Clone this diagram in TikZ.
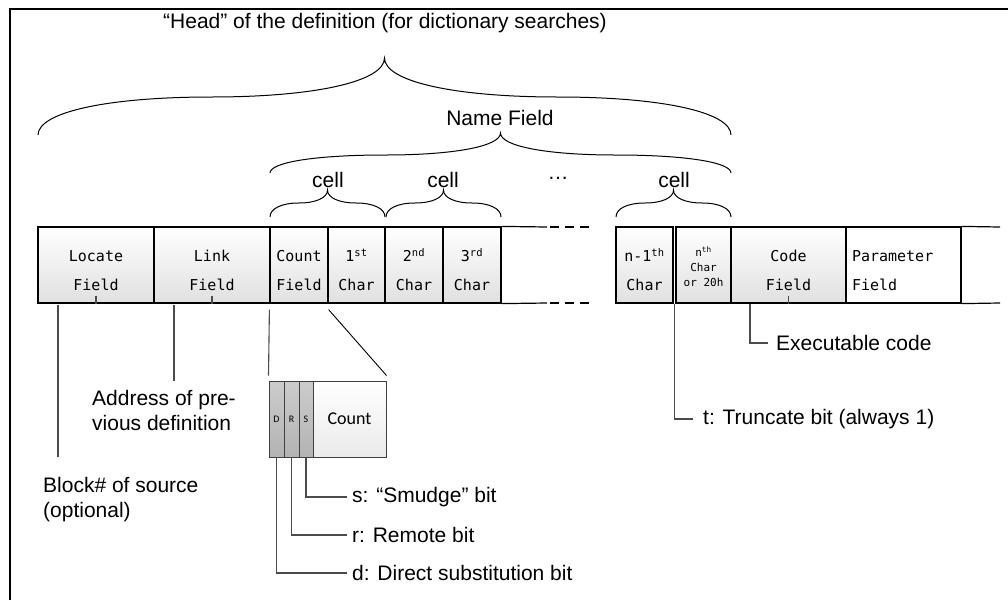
\documentclass[tikz,border=0pt]{standalone}
\usepackage{fontspec}
\setmainfont{Liberation Sans}
\newfontfamily\monof{DejaVu Sans Mono}
\newfontfamily\calib{Carlito}

\newcommand{\fup}{\rule{0pt}{23pt}}
% curly brace: left x, right x, end y, arm y, tip y
\newcommand{\brce}[5]{%
  \pgfmathsetmacro{\bxm}{(#1+#2)/2}%
  \pgfmathsetmacro{\bxl}{(#1+\bxm)/2}%
  \pgfmathsetmacro{\bxr}{(\bxm+#2)/2}%
  \draw[brc] (#1,#3) .. controls (#1,{#3+0.6*(#4-#3)}) and ({\bxl-0.6*(\bxl-#1)},#4) .. (\bxl,#4)
    .. controls ({\bxl+0.6*(\bxm-\bxl)},#4) and (\bxm,{#5+0.6*(#4-#5)}) .. (\bxm,#5)
    .. controls (\bxm,{#5+0.6*(#4-#5)}) and ({\bxr-0.6*(\bxr-\bxm)},#4) .. (\bxr,#4)
    .. controls ({\bxr+0.6*(#2-\bxr)},#4) and (#2,{#3+0.6*(#4-#3)}) .. (#2,#3);}

\tikzset{
  fld/.style={draw=black, line width=1.2pt, top color=white, bottom color=black!12,
    minimum height=76pt, inner sep=0pt, align=center,
    font=\monof\fontsize{15}{29}\selectfont},
  bit/.style={draw=black!75, line width=1pt, top color=black!20, bottom color=black!30,
    minimum height=76pt, inner sep=0pt, font=\calib\fontsize{10}{10}\selectfont},
  lbl/.style={font=\fontsize{21}{25}\selectfont, inner sep=0pt},
  lead/.style={draw=black!70, line width=1.1pt},
  brc/.style={line width=1pt},
}

\begin{document}
\begin{tikzpicture}[x=1pt, y=-1pt]
  \useasboundingbox (0,0) rectangle (1008,600);
  \draw[line width=1.6pt] (10,600) -- (10,9) -- (1008,9);

  % the fields of the definition
  \node[fld, minimum width=116pt] (loc) at (96,265) {\fup Locate\\Field};
  \node[fld, minimum width=116pt] (link) at (212,265) {\fup Link\\Field};
  \node[fld, minimum width=58pt] (cnt) at (299,265) {\fup Count\\Field};
  \node[fld, minimum width=57pt] (c1) at (356.5,265) {\fup 1\textsuperscript{st}\\Char};
  \node[fld, minimum width=58pt] (c2) at (414,265) {\fup 2\textsuperscript{nd}\\Char};
  \node[fld, minimum width=58pt] (c3) at (472,265) {\fup 3\textsuperscript{rd}\\Char};
  \node[fld, minimum width=57pt] (cn1) at (644.5,265) {\fup n-1\textsuperscript{th}\\Char};
  \node[fld, minimum width=55pt, font=\monof\fontsize{11}{15}\selectfont] (cn) at (703.5,265)
    {\rule{0pt}{14pt}n\textsuperscript{th}\\Char\\or 20h};
  \node[fld, minimum width=115pt] (code) at (788.5,265) {\fup Code\\Field};
  \node[fld, minimum width=115pt, top color=white, bottom color=white, align=left,
    text width=103pt, inner xsep=6pt] (param) at (903.5,265) {\fup Parameter\\Field};

  \draw[line width=1.2pt] (c3.north east) -- (547,227);
  \draw[line width=1.2pt] (c3.south east) -- (547,303);
  \draw[line width=1.2pt, dash pattern=on 9pt off 6pt] (550,227) -- (590,227);
  \draw[line width=1.2pt, dash pattern=on 9pt off 6pt] (550,303) -- (590,303);
  \draw[line width=1.2pt] (param.north east) -- (1000,227);
  \draw[line width=1.2pt] (param.south east) -- (1000,303);

  % braces and their labels
  \brce{38}{731}{135}{97}{58}
  \brce{270}{731}{173}{155}{133}
  \brce{270}{385}{217}{203}{190}
  \brce{386}{501}{217}{203}{190}
  \brce{616}{731}{217}{203}{190}
  \node[lbl] (head) at (385,23) {“Head” of the definition (for dictionary searches)};
  \node[lbl] (namef) at (500,118) {Name Field};
  \node[lbl] (cl1) at (328,180) {cell};
  \node[lbl] (cl2) at (443,180) {cell};
  \node[lbl] (cl3) at (674,180) {cell};
  \node[lbl] (dots) at (558,178) {…};

  % count byte
  \node[bit, minimum width=15pt] (bD) at (276.5,419) {D};
  \node[bit, minimum width=15pt] (bR) at (291.5,419) {R};
  \node[bit, minimum width=14pt] (bS) at (306,419) {S};
  \node[bit, minimum width=73pt, top color=white, bottom color=black!8,
    font=\calib\fontsize{18}{20}\selectfont] (bcnt) at (349.5,419) {Count};

  % notes
  \node[lbl, anchor=north west, align=left] (blk) at (43,477) {Block\# of source\\(optional)};
  \node[lbl, anchor=north west, align=left] (addr) at (92,390) {Address of pre-\\vious definition};
  \node[lbl, anchor=west, inner xsep=5pt] (tS) at (347,497) {s: “Smudge” bit};
  \node[lbl, anchor=west, inner xsep=5pt] (tR) at (347,535) {r: Remote bit};
  \node[lbl, anchor=west, inner xsep=5pt] (tD) at (347,573) {d: Direct substitution bit};
  \node[lbl, anchor=west, inner xsep=10pt] (trunc) at (693,419) {t: Truncate bit (always 1)};
  \node[lbl, anchor=west, inner xsep=8pt] (exe) at (768,343) {Executable code};
  \coordinate (tb) at (674.5,304);
  \coordinate (ec) at (750,304);

  \draw[lead] (loc.south) -- ++(0,-8);
  \draw[lead] (link.south) -- ++(0,-8);
  \draw[lead] (code.south) -- ++(0,-8);
  \draw[lead] (58,305) -- (58,457);
  \draw[lead] (174,305) -- (174,381);
  \draw[lead] ([yshift=-6pt]cnt.south west) -- ([yshift=5pt]bD.north west);
  \draw[line width=0.9pt] ([yshift=-6pt]cnt.south east) -- ([yshift=5pt]bcnt.north east);
  \draw[lead] (bS.south) |- (tS.west);
  \draw[lead] (bR.south) |- (tR.west);
  \draw[lead] (bD.south) |- (tD.west);
  \draw[lead] (tb) |- (trunc.west);
  \draw[lead] (ec) |- (exe.west);
\end{tikzpicture}
\end{document}
